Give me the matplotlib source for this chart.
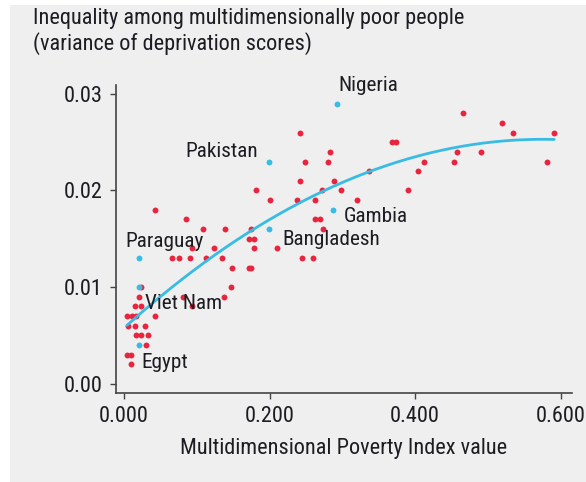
import numpy as np
import matplotlib
matplotlib.use('Agg')
from matplotlib import pyplot as plt
from matplotlib.patches import Rectangle

plt.rcParams['font.family'] = ['Roboto Condensed', 'DejaVu Sans']

# Other countries (red): MPI value and variance of deprivation scores
mpi_other = [0.466, 0.519, 0.242, 0.535, 0.591, 0.368, 0.374, 0.283, 0.458, 0.490,
             0.249, 0.280, 0.412, 0.454, 0.581, 0.337, 0.404, 0.242, 0.289,
             0.182, 0.272, 0.298, 0.390, 0.200, 0.237, 0.262, 0.320, 0.042,
             0.085, 0.262, 0.269, 0.109, 0.139, 0.175, 0.274, 0.172, 0.178,
             0.093, 0.123, 0.178, 0.210, 0.066, 0.075, 0.091, 0.113, 0.135,
             0.244, 0.259, 0.149, 0.172, 0.175, 0.024, 0.147, 0.021, 0.081,
             0.137, 0.015, 0.023, 0.093, 0.004, 0.011, 0.017, 0.043, 0.006,
             0.015, 0.029, 0.017, 0.024, 0.033, 0.030, 0.004, 0.009, 0.009]
var_other = [0.028, 0.027, 0.026, 0.026, 0.026, 0.025, 0.025, 0.024, 0.024, 0.024,
             0.023, 0.023, 0.023, 0.023, 0.023, 0.022, 0.022, 0.021, 0.021,
             0.020, 0.020, 0.020, 0.020, 0.019, 0.019, 0.019, 0.019, 0.018,
             0.017, 0.017, 0.017, 0.016, 0.016, 0.016, 0.016, 0.015, 0.015,
             0.014, 0.014, 0.014, 0.014, 0.013, 0.013, 0.013, 0.013, 0.013,
             0.013, 0.013, 0.012, 0.012, 0.012, 0.010, 0.010, 0.009, 0.009,
             0.009, 0.008, 0.008, 0.008, 0.007, 0.007, 0.007, 0.007, 0.006,
             0.006, 0.006, 0.005, 0.005, 0.005, 0.004, 0.003, 0.003, 0.002]

# Highlighted countries (blue)
countries = ['Nigeria', 'Pakistan', 'Gambia', 'Bangladesh', 'Paraguay', 'Viet Nam', 'Egypt']
mpi_hl = [0.292, 0.199, 0.287, 0.199, 0.020, 0.020, 0.020]
var_hl = [0.029, 0.023, 0.018, 0.016, 0.013, 0.010, 0.004]

xticks = [0.0, 0.2, 0.4, 0.6]
yticks = [0.00, 0.01, 0.02, 0.03]

red = '#e8243e'
blue = '#38bce4'
txt = '#1c1c22'

fig = plt.figure(figsize=(5.86, 4.82), dpi=100)
fig.patches.append(Rectangle((10 / 586, 0), 1, 1 - 5 / 482, transform=fig.transFigure,
                             facecolor='#efefef', edgecolor='none', zorder=-5))
ax = fig.add_axes([115.7 / 586, 1 - 392.7 / 482, 456 / 586, 307.7 / 482])
ax.set_zorder(2)
ax.patch.set_alpha(0)

ax.scatter(mpi_other, var_other, s=18, color=red, linewidths=0, zorder=2)

# quadratic trend fitted on all countries
all_x = np.array(mpi_other + mpi_hl)
all_y = np.array(var_other + var_hl)
coef = np.polyfit(all_x, all_y, 2)
xs = np.linspace(all_x.min(), all_x.max(), 200)
ax.plot(xs, np.polyval(coef, xs), color=blue, lw=2.0, zorder=3, solid_capstyle='round')

ax.scatter(mpi_hl, var_hl, s=18, color=blue, linewidths=0, zorder=4)

# label offsets in pixels (dx, dy, ha)
offsets = {'Nigeria': (2, 13, 'left'), 'Pakistan': (-11, 5, 'right'),
           'Gambia': (11, -12, 'left'), 'Bangladesh': (14, -16, 'left'),
           'Paraguay': (-13, 11, 'left'), 'Viet Nam': (6, -22, 'left'),
           'Egypt': (3, -23, 'left')}
for name, x, y in zip(countries, mpi_hl, var_hl):
    dx, dy, ha = offsets[name]
    ax.annotate(name, (x, y), xytext=(dx, dy), textcoords='offset pixels',
                ha=ha, va='baseline', fontsize=15.3, color=txt, zorder=5)

ax.set_xlim(-0.0114, 0.615)
ax.set_ylim(-0.00095, 0.03093)
ax.set_xticks(xticks)
ax.set_xticklabels([f'{v:.3f}' for v in xticks])
ax.set_yticks(yticks)
ax.set_yticklabels([f'{v:.2f}' for v in yticks])
for s in ['top', 'right']:
    ax.spines[s].set_visible(False)
for s in ['left', 'bottom']:
    ax.spines[s].set_color('#444444')
    ax.spines[s].set_linewidth(1.2)
ax.tick_params(length=4.5, width=1.0, color='#444444', labelsize=16, labelcolor=txt, pad=5)

ax.set_xlabel('Multidimensional Poverty Index value', fontsize=16, color=txt, labelpad=8)
fig.text(33 / 586, 1 - 8 / 482,
         'Inequality among multidimensionally poor people\n(variance of deprivation scores)',
         ha='left', va='top', fontsize=16, color=txt, linespacing=1.15)

fig.savefig('out.png', dpi=100)
